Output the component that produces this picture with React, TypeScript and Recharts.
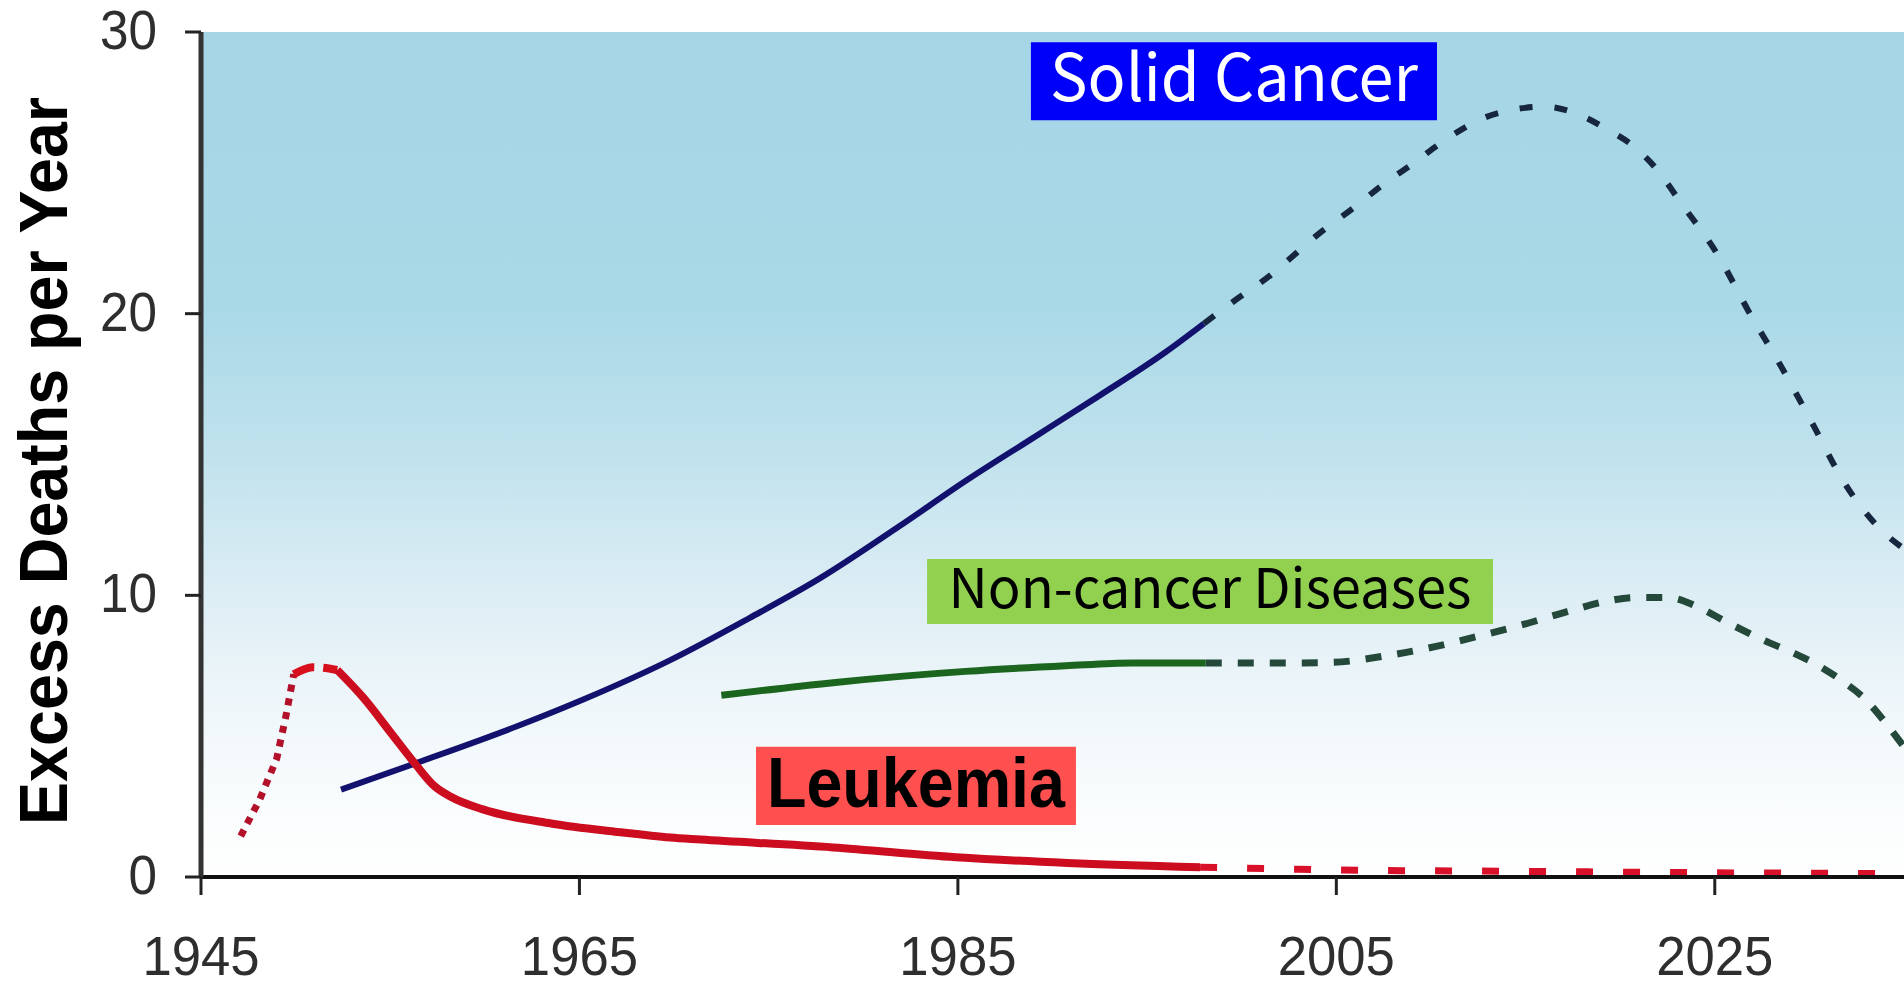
import React from 'react';
import { LineChart, Line, XAxis, YAxis, ReferenceArea } from 'recharts';

// ---- axis ticks ----
const xTicks = [1945, 1965, 1985, 2005, 2025];
const yTicks = [0, 10, 20, 30];

// ---- Leukemia ----
const leukRiseYears = [1947.1, 1948.1, 1949.0, 1949.5, 1949.9];
const leukRiseValues = [1.45, 2.75, 4.2, 5.75, 7.2];
const leukPeakYears = [1949.9, 1950.9, 1952.2];
const leukPeakValues = [7.2, 7.45, 7.35];
const leukObsYears = [1952.2, 1953.6, 1955.0, 1956.4, 1957.3, 1958.2, 1959.9, 1963.5, 1967.0, 1969.8, 1971.4, 1978.4, 1984.9, 1990.8, 1997.8];
const leukObsValues = [7.35, 6.35, 5.15, 3.95, 3.25, 2.85, 2.4, 1.9, 1.6, 1.4, 1.33, 1.05, 0.7, 0.5, 0.35];
const leukProjYears = [1997.8, 2005, 2015, 2025, 2035];
const leukProjValues = [0.35, 0.25, 0.2, 0.15, 0.12];

// ---- Solid Cancer ----
const solidObsYears = [1952.4, 1956.4, 1961.7, 1965.2, 1969.8, 1974.0, 1977.7, 1981.9, 1985.5, 1989.0, 1992.5, 1996.0, 1998.0];
const solidObsValues = [3.1, 4.05, 5.35, 6.3, 7.7, 9.2, 10.6, 12.45, 14.1, 15.6, 17.1, 18.65, 19.65];
const solidProjYears = [1998.0, 1999.6, 2001.3, 2004.1, 2005.9, 2007.6, 2009.1, 2010.5, 2012.8, 2014.4, 2016.0, 2017.5, 2019.3, 2020.7, 2021.9, 2023.3, 2025.1, 2026.9, 2028.4, 2030.2, 2031.8, 2033.6, 2035.0];
const solidProjValues = [19.65, 20.45, 21.25, 22.85, 23.75, 24.65, 25.35, 26.05, 26.95, 27.25, 27.35, 27.15, 26.55, 25.95, 25.15, 23.85, 22.15, 19.95, 18.25, 16.05, 14.05, 12.45, 11.65];

// ---- Non-cancer Diseases ----
const nonCancerObsYears = [1972.5, 1978.4, 1985.4, 1990.7, 1994.2, 1998.1];
const nonCancerObsValues = [6.45, 6.9, 7.3, 7.5, 7.6, 7.6];
const nonCancerProjYears = [1998.1, 2002.7, 2004.8, 2007.6, 2009.8, 2012.8, 2014.8, 2017.2, 2019.2, 2020.7, 2022.5, 2024.0, 2025.6, 2027.6, 2029.2, 2030.6, 2031.8, 2033.0, 2033.9, 2035.0];
const nonCancerProjValues = [7.6, 7.6, 7.62, 7.85, 8.12, 8.6, 8.95, 9.42, 9.78, 9.92, 9.92, 9.62, 9.06, 8.4, 7.94, 7.46, 6.93, 6.28, 5.58, 4.62];

// ---- label boxes (annotation areas, data coordinates) ----
const solidBox = { x1: 1988.86, x2: 2010.32, y1: 26.87, y2: 29.64 };
const nonCancerBox = { x1: 1983.37, x2: 2013.28, y1: 8.98, y2: 11.29 };
const leukBox = { x1: 1974.33, x2: 1991.24, y1: 1.85, y2: 4.62 };

const toPoints = (years: number[], values: number[]) =>
  years.map((year, i) => ({ year, value: values[i] }));

const tickFont = "'Liberation Sans', Arial, sans-serif";

const XTick = (props: any) => {
  const { x, y, payload } = props;
  const s = String(payload.value);
  return (
    <text x={x} y={y} dy={79.5} textAnchor="middle" fontSize={56} fontFamily={tickFont} fill="#2e2e2e"
      textLength={s.length * 29.3} lengthAdjust="spacingAndGlyphs">
      {s}
    </text>
  );
};

const YTick = (props: any) => {
  const { x, y, payload } = props;
  const s = String(payload.value);
  return (
    <text x={x} y={y} dy={17} textAnchor="end" fontSize={56} fontFamily={tickFont} fill="#2e2e2e"
      textLength={s.length * 28.5} lengthAdjust="spacingAndGlyphs">
      {s}
    </text>
  );
};

const YTitle = (props: any) => {
  const vb = props.viewBox || { x: 0, y: 32, width: 201, height: 845 };
  const cx = vb.x + 67;
  const cy = vb.y + vb.height / 2 + 6.5;
  return (
    <text x={cx} y={cy} transform={`rotate(-90, ${cx}, ${cy})`} textAnchor="middle" fontSize={68}
      fontWeight="bold" fontFamily={tickFont} fill="#000" textLength={728} lengthAdjust="spacingAndGlyphs">
      Excess Deaths per Year
    </text>
  );
};

const boxLabel = (text: string, opts: { size: number; len: number; base: number; color: string; bold?: boolean; font: string }) =>
  (props: any) => {
    const vb = props.viewBox;
    if (!vb) return null;
    return (
      <text x={vb.x + vb.width / 2} y={vb.y + opts.base} textAnchor="middle" fontSize={opts.size}
        fontWeight={opts.bold ? 'bold' : 'normal'} fontFamily={opts.font} fill={opts.color}
        textLength={opts.len} lengthAdjust="spacingAndGlyphs">
        {text}
      </text>
    );
  };

const jpFont = "'Noto Sans CJK JP', 'Noto Sans', sans-serif";

export default function App() {
  return (
    <div style={{ position: 'absolute', left: 0, top: 0, width: 1904, height: 985, overflow: 'hidden', background: '#fff' }}>
      <LineChart width={1904} height={985} margin={{ top: 32, right: 0, bottom: 0, left: 0 }}>
        <defs>
          <linearGradient id="bgGrad" x1="0" y1="0" x2="0" y2="1">
            <stop offset="0%" stopColor="#a6d6e6" />
            <stop offset="32%" stopColor="#a9d8e7" />
            <stop offset="50%" stopColor="#c0e2ed" />
            <stop offset="66%" stopColor="#dcedf4" />
            <stop offset="79%" stopColor="#eef6fa" />
            <stop offset="91%" stopColor="#f9fcfd" />
            <stop offset="100%" stopColor="#ffffff" />
          </linearGradient>
        </defs>
        <XAxis type="number" dataKey="year" domain={[1945, 2035]} ticks={xTicks} allowDataOverflow
          height={108} tickSize={18} tickMargin={0} tick={<XTick />}
          axisLine={{ stroke: '#111', strokeWidth: 4 }} tickLine={{ stroke: '#222', strokeWidth: 3 }} />
        <YAxis type="number" dataKey="value" domain={[0, 30]} ticks={yTicks} allowDataOverflow
          width={201} tickSize={16} tickMargin={28} tick={<YTick />}
          axisLine={{ stroke: '#333', strokeWidth: 5 }} tickLine={{ stroke: '#222', strokeWidth: 3 }}
          label={(p: any) => <YTitle {...p} />} />
        <ReferenceArea x1={1945} x2={2035} y1={0} y2={30} fill="url(#bgGrad)" fillOpacity={1} stroke="none" />

        <Line data={toPoints(solidObsYears, solidObsValues)} dataKey="value" type="monotone" stroke="#12126e" strokeWidth={6} dot={false} isAnimationActive={false} />
        <Line data={toPoints(solidProjYears, solidProjValues)} dataKey="value" type="monotone" stroke="#16263e" strokeWidth={6} strokeDasharray="13 22" dot={false} isAnimationActive={false} />
        <Line data={toPoints(nonCancerObsYears, nonCancerObsValues)} dataKey="value" type="monotone" stroke="#1b651f" strokeWidth={7} dot={false} isAnimationActive={false} />
        <Line data={toPoints(nonCancerProjYears, nonCancerProjValues)} dataKey="value" type="monotone" stroke="#24493a" strokeWidth={7} strokeDasharray="16 16" dot={false} isAnimationActive={false} />
        <Line data={toPoints(leukRiseYears, leukRiseValues)} dataKey="value" type="linear" stroke="#b3102a" strokeWidth={7} strokeDasharray="7 7" dot={false} isAnimationActive={false} />
        <Line data={toPoints(leukPeakYears, leukPeakValues)} dataKey="value" type="monotone" stroke="#d8101e" strokeWidth={8} strokeDasharray="22 9" dot={false} isAnimationActive={false} />
        <Line data={toPoints(leukObsYears, leukObsValues)} dataKey="value" type="monotone" stroke="#cc0d1f" strokeWidth={8} dot={false} isAnimationActive={false} />
        <Line data={toPoints(leukProjYears, leukProjValues)} dataKey="value" type="monotone" stroke="#d8102a" strokeWidth={7} strokeDasharray="17 30" dot={false} isAnimationActive={false} />

        <ReferenceArea {...solidBox} fill="#0000fa" fillOpacity={1} stroke="none"
          label={boxLabel('Solid Cancer', { size: 65, len: 368, base: 58.7, color: '#ffffff', font: jpFont })} />
        <ReferenceArea {...nonCancerBox} fill="#92d050" fillOpacity={1} stroke="none"
          label={boxLabel('Non-cancer Diseases', { size: 55, len: 523, base: 49.3, color: '#000000', font: jpFont })} />
        <ReferenceArea {...leukBox} fill="#ff5050" fillOpacity={1} stroke="none"
          label={boxLabel('Leukemia', { size: 70, len: 298, base: 59.7, color: '#000000', bold: true, font: tickFont })} />
      </LineChart>
    </div>
  );
}
